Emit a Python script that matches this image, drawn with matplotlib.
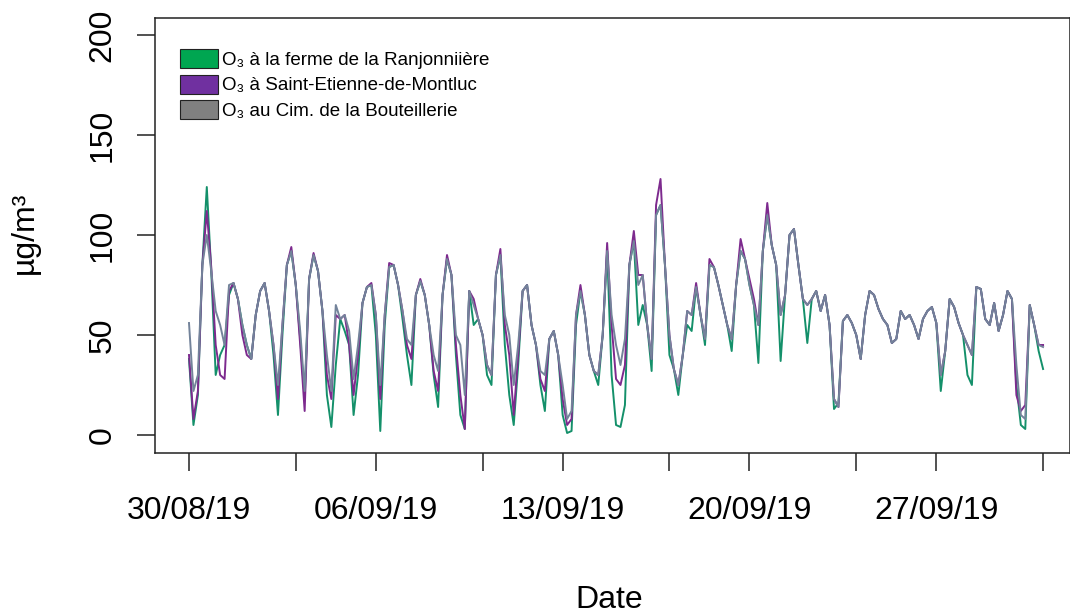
import pandas as pd
import matplotlib
matplotlib.use("Agg")
import matplotlib.pyplot as plt
import matplotlib.dates as mdates
from matplotlib.patches import Patch

plt.rcParams['font.family'] = ['Liberation Sans', 'DejaVu Sans']

# O3 concentrations (µg/m3), one reading every 4 h from 30/08/19 00:00 to 01/10/19 00:00
gray = [56, 22, 30, 85, 100, 82, 62, 55, 45, 75, 76, 68, 55, 45, 38, 60, 72, 76, 62, 45,
        25, 55, 85, 92, 75, 52, 22, 78, 90, 82, 62, 40, 22, 65, 58, 60, 52, 28, 45, 66,
        74, 75, 60, 25, 60, 84, 85, 75, 62, 48, 45, 70, 77, 70, 55, 40, 32, 70, 88, 80,
        50, 45, 20, 72, 65, 58, 50, 35, 30, 80, 90, 60, 50, 25, 45, 72, 75, 55, 45, 32,
        30, 48, 52, 40, 25, 8, 12, 60, 72, 60, 40, 32, 30, 50, 92, 60, 45, 35, 48, 85,
        97, 75, 80, 55, 38, 110, 115, 85, 50, 33, 25, 40, 62, 60, 74, 60, 48, 85, 84, 75,
        65, 55, 48, 75, 92, 88, 75, 65, 55, 92, 110, 95, 85, 60, 70, 100, 103, 85, 68, 65,
        68, 72, 62, 70, 55, 18, 14, 57, 60, 56, 50, 38, 60, 72, 70, 63, 58, 55, 46, 48,
        62, 58, 60, 55, 48, 58, 62, 64, 56, 30, 42, 68, 64, 56, 50, 45, 40, 74, 73, 58,
        55, 66, 52, 60, 72, 68, 35, 10, 8, 65, 55, 45, 44]

green = [38, 5, 20, 85, 124, 82, 30, 40, 45, 70, 76, 68, 55, 45, 38, 60, 72, 76, 62, 40,
         10, 50, 85, 92, 75, 48, 18, 78, 90, 82, 62, 20, 4, 35, 58, 52, 45, 10, 30, 66,
         74, 75, 50, 2, 55, 84, 85, 75, 58, 40, 25, 70, 77, 70, 55, 30, 14, 70, 88, 80,
         40, 10, 3, 72, 55, 58, 50, 30, 25, 80, 90, 45, 20, 5, 35, 72, 75, 55, 45, 25,
         12, 48, 52, 40, 10, 1, 2, 55, 72, 60, 40, 32, 25, 50, 92, 30, 5, 4, 15, 85,
         97, 55, 65, 55, 32, 110, 115, 85, 40, 33, 20, 40, 55, 52, 74, 60, 45, 85, 84, 75,
         65, 55, 42, 75, 92, 88, 75, 65, 36, 92, 110, 95, 85, 37, 70, 100, 103, 85, 68, 46,
         68, 72, 62, 70, 55, 13, 16, 57, 60, 56, 50, 38, 60, 72, 70, 63, 58, 55, 46, 48,
         62, 58, 60, 55, 48, 58, 62, 64, 56, 22, 42, 68, 64, 56, 50, 30, 25, 74, 73, 58,
         55, 66, 52, 60, 72, 68, 25, 5, 3, 65, 55, 42, 33]

purple = [40, 8, 22, 85, 112, 84, 45, 30, 28, 72, 76, 68, 50, 40, 38, 60, 72, 76, 62, 45,
          18, 55, 85, 94, 75, 45, 12, 78, 91, 82, 62, 30, 18, 60, 58, 60, 45, 20, 40, 66,
          74, 76, 60, 18, 60, 86, 85, 75, 62, 45, 38, 70, 78, 70, 55, 32, 22, 70, 90, 80,
          45, 20, 3, 72, 68, 58, 50, 35, 30, 80, 93, 55, 40, 10, 40, 72, 75, 55, 45, 28,
          22, 48, 52, 40, 18, 5, 8, 60, 75, 60, 40, 32, 30, 50, 96, 55, 28, 25, 35, 85,
          102, 80, 80, 55, 38, 115, 128, 85, 50, 33, 25, 40, 62, 60, 76, 60, 48, 88, 84, 75,
          65, 55, 48, 75, 98, 88, 78, 68, 55, 92, 116, 95, 85, 60, 70, 100, 103, 85, 68, 65,
          68, 72, 62, 70, 55, 18, 14, 57, 60, 56, 50, 38, 60, 72, 70, 63, 58, 55, 46, 48,
          62, 58, 60, 55, 48, 58, 62, 64, 56, 30, 42, 68, 64, 56, 50, 45, 40, 74, 73, 58,
          55, 66, 52, 60, 72, 68, 20, 12, 15, 65, 55, 45, 45]

series_labels = ["O\u2083 à la ferme de la Ranjonniière",
                 "O\u2083 à Saint-Etienne-de-Montluc",
                 "O\u2083 au Cim. de la Bouteillerie"]
tick_dates = ["2019-08-30", "2019-09-03", "2019-09-06", "2019-09-10", "2019-09-13",
              "2019-09-17", "2019-09-20", "2019-09-24", "2019-09-27", "2019-10-01"]
tick_labels = ["30/08/19", "", "06/09/19", "", "13/09/19",
               "", "20/09/19", "", "27/09/19", ""]

times = pd.date_range("2019-08-30", periods=len(gray), freq="4h")

fig = plt.figure(figsize=(10.7, 6.16), dpi=100)
ax = fig.add_axes([155 / 1070, 1 - 453 / 616, 1 - 155 / 1070, (453 - 18) / 616])

ax.plot(times, green, color="#14906a", lw=1.4)
ax.plot(times, purple, color="#7d2a8e", lw=1.4)
ax.plot(times, gray, color="#73839a", lw=1.4)

t0 = pd.Timestamp("2019-08-30")
ax.set_xlim(t0 - pd.Timedelta(days=34 / 26.69), t0 + pd.Timedelta(days=881 / 26.69))
ax.set_ylim(-9, 208.5)

ax.set_yticks([0, 50, 100, 150, 200])
ax.set_yticklabels(["0", "50", "100", "150", "200"], rotation=90, va="center")
ax.set_xticks([mdates.date2num(pd.Timestamp(d)) for d in tick_dates])
ax.set_xticklabels(tick_labels)

ax.tick_params(axis="both", labelsize=23, length=13, width=1.1, color="#222222")
ax.tick_params(axis="y", pad=14)
ax.tick_params(axis="x", pad=18)
for s in ax.spines.values():
    s.set_linewidth(1.1)
    s.set_color("#222222")

fig.text(609 / 1070, 1 - 600 / 616, "Date", fontsize=23, ha="center", va="center")
fig.text(25 / 1070, 1 - 233 / 616, "µg/m³", fontsize=23, ha="center", va="center", rotation=90)

handles = [Patch(facecolor="#00a651", edgecolor="#222222", lw=0.8),
           Patch(facecolor="#7030a0", edgecolor="#222222", lw=0.8),
           Patch(facecolor="#808080", edgecolor="#222222", lw=0.8)]
ax.legend(handles, series_labels, loc="upper left", bbox_to_anchor=(180 / 1070, 1 - 49 / 616),
          bbox_transform=fig.transFigure, frameon=False, fontsize=13.5, borderpad=0,
          borderaxespad=0, handlelength=2.0, handleheight=1.2, labelspacing=0.3,
          handletextpad=0.25)

fig.savefig("out.png", dpi=100)
